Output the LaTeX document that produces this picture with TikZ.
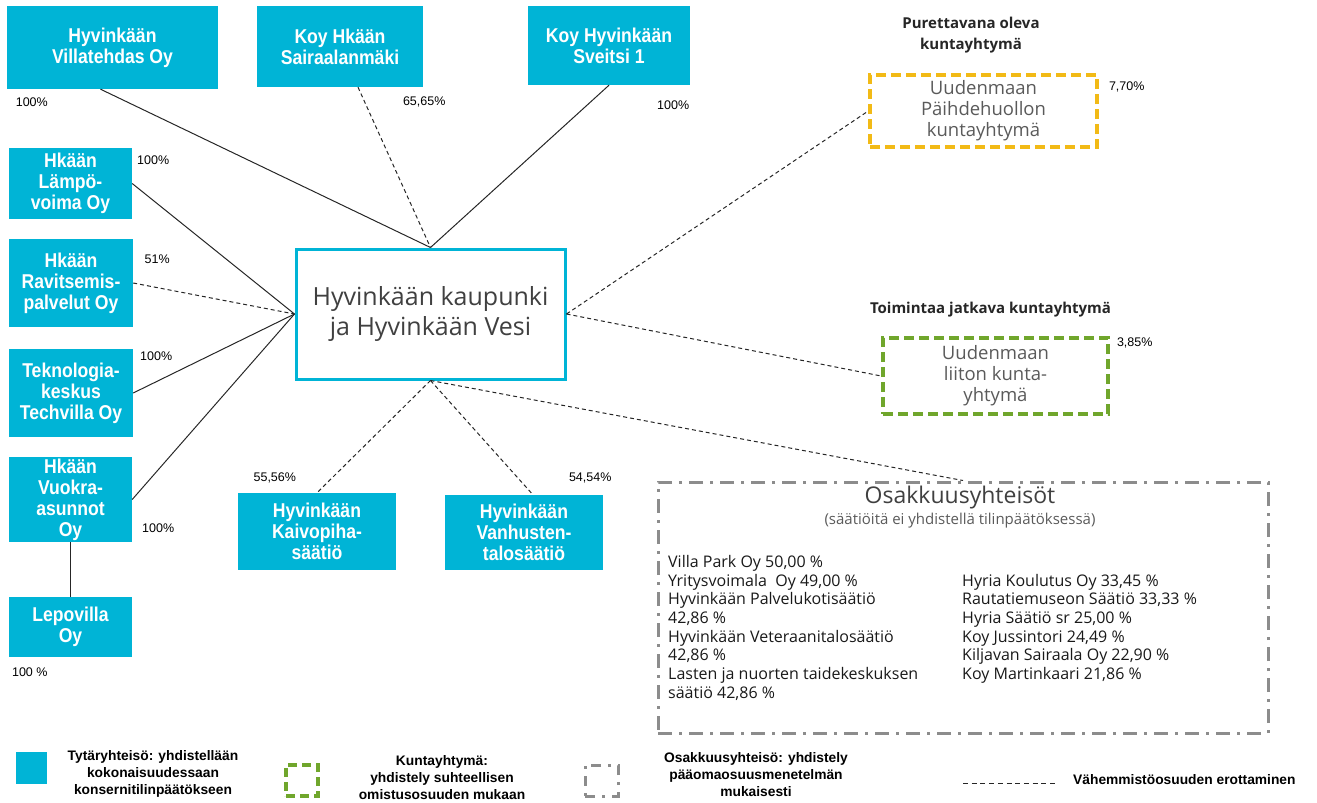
\documentclass[tikz,border=0pt]{standalone}
\usepackage{fontspec}
\setmainfont{Open Sans}
\newfontfamily\boxfont[FakeStretch=0.88]{Liberation Sans}
\newfontfamily\legfont{Liberation Sans}
\newfontfamily\pctfont{Liberation Sans}
\usetikzlibrary{positioning,calc}
\definecolor{tytar}{RGB}{0,180,214}
\definecolor{purkuyel}{RGB}{242,186,22}
\definecolor{kuntagrn}{RGB}{112,166,44}
\definecolor{osakgrey}{RGB}{140,140,140}
\definecolor{darktxt}{RGB}{64,64,64}
\definecolor{greytxt}{RGB}{90,90,90}

\begin{document}
\begin{tikzpicture}[x=1pt,y=-1pt]
\tikzstyle{sub}=[rectangle, fill=tytar, text=white, align=center, inner sep=0pt, font=\boxfont\bfseries\fontsize{20}{21}\selectfont]
\tikzstyle{pct}=[inner sep=0pt, font=\pctfont\fontsize{12.5}{14}\selectfont]
\tikzstyle{kunta}=[rectangle, line width=3.5, dash pattern=on 10 off 5, align=center, inner sep=0pt, text=greytxt, font=\fontsize{18.5}{21}\selectfont]
\tikzstyle{title}=[align=center, inner sep=0pt, text=black!85, font=\bfseries\fontsize{15}{21}\selectfont]
\tikzstyle{osak}=[rectangle, draw=osakgrey, line width=3, dash pattern=on 14 off 7 on 3 off 7]
\tikzstyle{legend}=[align=center, inner sep=0pt, font=\legfont\bfseries\fontsize{13.8}{17}\selectfont]
\tikzstyle{connect}=[line width=1, black!85]
\tikzstyle{minority}=[connect, dash pattern=on 4 off 3]

\useasboundingbox (0,0) rectangle (1317,803);

  % parent
  \node[rectangle, draw=tytar, line width=3, fill=white, minimum width=269, minimum height=130, align=center, text=darktxt, font=\fontsize{25}{30}\selectfont] (main) at (430.5,314) {Hyvinkään kaupunki\\ja Hyvinkään Vesi};

  % subsidiaries
  \node[sub, minimum width=211, minimum height=83] (villatehdas) at (112.5,47.5) {Hyvinkään\\Villatehdas Oy};
  \node[sub, minimum width=166, minimum height=81] (sairaala)    at (340,46.5)   {Koy Hkään\\Sairaalanmäki};
  \node[sub, minimum width=162, minimum height=79] (sveitsi)     at (609,45.5)   {Koy Hyvinkään\\Sveitsi 1};
  \node[sub, minimum width=123, minimum height=71] (lampo)       at (70.5,183.5) {Hkään\\Lämpö-\\voima Oy};
  \node[sub, minimum width=124, minimum height=88] (ravitsemis)  at (71,283)     {Hkään\\Ravitsemis-\\palvelut Oy};
  \node[sub, minimum width=124, minimum height=88] (techvilla)   at (71,393)     {Teknologia-\\keskus\\Techvilla Oy};
  \node[sub, minimum width=123, minimum height=85] (vuokra)      at (70.5,499.5) {Hkään\\Vuokra-\\asunnot\\Oy};
  \node[sub, minimum width=123, minimum height=60] (lepovilla)   at (70.5,627)   {Lepovilla\\Oy};
  \node[sub, minimum width=158, minimum height=77] (kaivopiha)   at (317,531.5)  {Hyvinkään\\Kaivopiha-\\säätiö};
  \node[sub, minimum width=158, minimum height=75] (vanhusten)   at (524,532.5)  {Hyvinkään\\Vanhusten-\\talosäätiö};

  % ownership shares
  \node[pct] (pvilla)  at ([shift={(25,13)}]villatehdas.south west) {100\%};
  \node[pct] (psair)   at ([shift={(1,15)}]sairaala.south east)     {65,65\%};
  \node[pct] (psveit)  at ([shift={(-17,20)}]sveitsi.south east)    {100\%};
  \node[pct] (plampo)  at ([shift={(21,12)}]lampo.north east)       {100\%};
  \node[pct] (pravit)  at ([shift={(24,20)}]ravitsemis.north east)  {51\%};
  \node[pct] (ptech)   at ([shift={(23,7)}]techvilla.north east)    {100\%};
  \node[pct] (pvuokra) at ([shift={(26,-14)}]vuokra.south east)     {100\%};
  \node[pct] (plepo)   at ([shift={(21,15)}]lepovilla.south west)   {100 \%};
  \node[pct] (pkaivo)  at ([shift={(37,-15)}]kaivopiha.north west)  {55,56\%};
  \node[pct] (pvanh)   at ([shift={(-13,-17)}]vanhusten.north east) {54,54\%};

  % joint municipal authorities
  \node[kunta, draw=purkuyel, minimum width=227, minimum height=72] (paihde) at (983.5,111) {Uudenmaan\\Päihdehuollon\\kuntayhtymä};
  \node[title] (paihdetit) at ([shift={(-12.5,-38)}]paihde.north) {Purettavana oleva\\kuntayhtymä};
  \node[pct] (ppaihde) at ([shift={(28,14)}]paihde.north east) {7,70\%};

  \node[kunta, draw=kuntagrn, minimum width=225, minimum height=76] (liitto) at (995.5,376) {Uudenmaan\\liiton kunta-\\yhtymä};
  \node[title] (liittotit) at ([shift={(-5,-27)}]liitto.north) {Toimintaa jatkava kuntayhtymä};
  \node[pct] (pliitto) at ([shift={(25,7)}]liitto.north east) {3,85\%};

  % associated companies
  \node[osak, minimum width=610, minimum height=251] (osakk) at (963,607.5) {};
  \node[inner sep=0pt, text=darktxt, font=\fontsize{23}{26}\selectfont] (osaktit) at ([shift={(-3,17)}]osakk.north) {Osakkuusyhteisöt};
  \node[inner sep=0pt, text=greytxt, font=\fontsize{15}{16}\selectfont] (osaksub) at ([shift={(-3,40)}]osakk.north) {(säätiöitä ei yhdistellä tilinpäätöksessä)};
  \node[anchor=north west, align=left, inner sep=0pt, text=black!90, font=\fontsize{16}{18.7}\selectfont] (osakleft) at (668,555)
    {Villa Park Oy 50,00 \%\\Yritysvoimala\ \ Oy 49,00 \%\\Hyvinkään Palvelukotisäätiö\\42,86 \%\\Hyvinkään Veteraanitalosäätiö\\42,86 \%\\Lasten ja nuorten taidekeskuksen\\säätiö 42,86 \%};
  \node[anchor=north west, align=left, inner sep=0pt, text=black!90, font=\fontsize{16}{18.7}\selectfont] (osakright) at (962,573.7)
    {Hyria Koulutus Oy 33,45 \%\\Rautatiemuseon Säätiö 33,33 \%\\Hyria Säätiö sr 25,00 \%\\Koy Jussintori 24,49 \%\\Kiljavan Sairaala Oy 22,90 \%\\Koy Martinkaari 21,86 \%};

  % connections
  \draw[connect]  ([xshift=-12]villatehdas.south) -- (main.north);
  \draw[minority] ([xshift=18]sairaala.south) -- (main.north);
  \draw[connect]  (sveitsi.south) -- (main.north);
  \draw[connect]  (lampo.east) -- (main.west);
  \draw[minority] (ravitsemis.east) -- (main.west);
  \draw[connect]  (techvilla.east) -- (main.west);
  \draw[connect]  (vuokra.east) -- (main.west);
  \draw[connect]  (vuokra.south) -- (lepovilla.north);
  \draw[minority] (main.east) -- (paihde.west);
  \draw[minority] (main.east) -- (liitto.west);
  \draw[minority] (main.south) -- (kaivopiha.north);
  \draw[minority] (main.south) -- ([xshift=9]vanhusten.north);
  \draw[minority] (main.south) -- (osakk.north);

  % legend
  \node[rectangle, fill=tytar, minimum width=31, minimum height=32, inner sep=0pt] (legsub) at (31.5,768) {};
  \node[legend] (legsubtxt) at (153,773.5) {Tytäryhteisö: yhdistellään\\kokonaisuudessaan\\konsernitilinpäätökseen};
  \node[rectangle, draw=kuntagrn, line width=3.5, dash pattern=on 9 off 5, minimum width=32, minimum height=31, inner sep=0pt] (legkunta) at (302,780.5) {};
  \node[legend] (legkuntatxt) at (442,778) {Kuntayhtymä:\\yhdistely suhteellisen\\omistusosuuden mukaan};
  \node[osak, line width=3, dash pattern=on 10 off 7 on 3 off 7, minimum width=33, minimum height=31, inner sep=0pt] (legosak) at (601.5,780.5) {};
  \node[legend] (legosaktxt) at (756,775) {Osakkuusyhteisö: yhdistely\\pääomaosuusmenetelmän\\mukaisesti};
  \coordinate (legdashA) at (963,783);
  \coordinate (legdashB) at (1058,783);
  \draw[connect, dash pattern=on 5 off 3.7] (legdashA) -- (legdashB);
  \node[legend, anchor=west] (legdashtxt) at (1073,780) {Vähemmistöosuuden erottaminen};

\end{tikzpicture}
\end{document}
